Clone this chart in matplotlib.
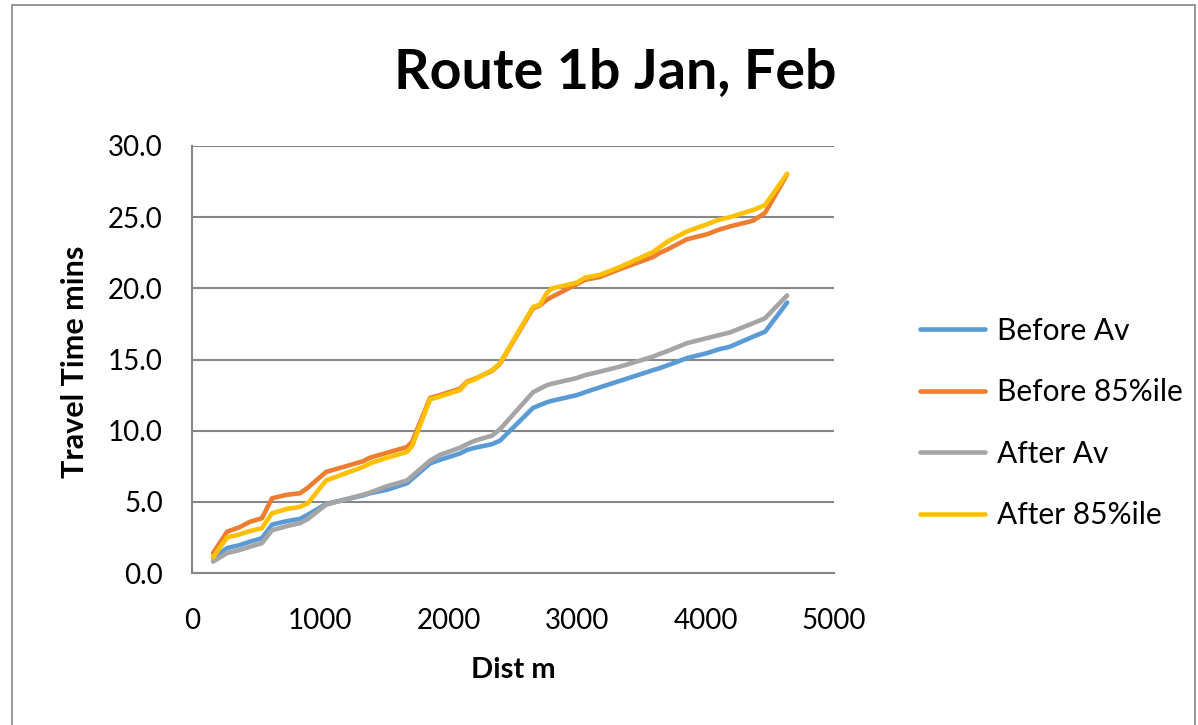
import matplotlib
matplotlib.use("Agg")
import matplotlib.pyplot as plt
from matplotlib.patches import Rectangle

dist = [164, 273, 366, 452, 545, 623, 740, 841, 903, 1044, 1332, 1386, 1519, 1674,
        1713, 1854, 1931, 2087, 2142, 2204, 2336, 2399, 2656, 2710, 2765, 2804, 2998,
        3061, 3178, 3333, 3590, 3645, 3707, 3855, 4011, 4097, 4190, 4369, 4463, 4635]

before_av = [1.05, 1.75, 1.95, 2.2, 2.45, 3.4, 3.65, 3.8, 4.1, 4.85, 5.45, 5.6, 5.85, 6.3,
             6.6, 7.7, 7.95, 8.4, 8.65, 8.8, 9.05, 9.3, 11.6, 11.8, 12.0, 12.1, 12.5,
             12.7, 13.05, 13.5, 14.25, 14.4, 14.6, 15.1, 15.45, 15.7, 15.9, 16.6, 16.95, 19.0]
before_85 = [1.4, 2.9, 3.2, 3.6, 3.85, 5.25, 5.5, 5.6, 6.0, 7.1, 7.85, 8.1, 8.45, 8.85,
             9.2, 12.3, 12.5, 12.95, 13.45, 13.65, 14.2, 14.7, 18.6, 18.8, 19.2, 19.4, 20.3,
             20.6, 20.8, 21.35, 22.2, 22.5, 22.75, 23.45, 23.8, 24.1, 24.35, 24.75, 25.3, 28.0]
after_av = [0.8, 1.4, 1.6, 1.85, 2.1, 3.0, 3.3, 3.5, 3.8, 4.8, 5.5, 5.65, 6.1, 6.5,
            6.8, 7.9, 8.3, 8.8, 9.05, 9.3, 9.65, 10.1, 12.7, 12.95, 13.2, 13.3, 13.7,
            13.9, 14.15, 14.5, 15.2, 15.4, 15.6, 16.15, 16.5, 16.7, 16.9, 17.55, 17.9, 19.5]
after_85 = [1.1, 2.5, 2.7, 2.95, 3.15, 4.2, 4.5, 4.65, 4.9, 6.5, 7.45, 7.7, 8.1, 8.5,
            8.9, 12.2, 12.4, 12.85, 13.4, 13.6, 14.25, 14.75, 18.7, 18.85, 19.7, 20.0, 20.4,
            20.75, 20.95, 21.5, 22.55, 22.9, 23.3, 24.0, 24.5, 24.8, 25.0, 25.5, 25.85, 28.05]

series_names = ["Before Av", "Before 85%ile", "After Av", "After 85%ile"]
series_vals = [before_av, before_85, after_av, after_85]
colors = ["#5B9BD5", "#ED7D31", "#A5A5A5", "#FFC000"]

x_ticks = [0, 1000, 2000, 3000, 4000, 5000]
y_ticks = [0, 5, 10, 15, 20, 25, 30]

plt.rcParams['font.family'] = ['Lato', 'DejaVu Sans']

W, H = 1198, 725
fig = plt.figure(figsize=(W / 100, H / 100), dpi=100)
fig.patches.append(Rectangle((12 / W, -0.01), (1195 - 12) / W, (H - 5) / H + 0.01,
                             transform=fig.transFigure, fill=False,
                             edgecolor="#868686", linewidth=1.2))

ax = fig.add_axes([192 / W, 1 - 573 / H, 642 / W, 427 / H])
for name, vals, c in zip(series_names, series_vals, colors):
    ax.plot(dist, vals, color=c, linewidth=3.3, label=name, solid_joinstyle='round',
            solid_capstyle='round')

ax.set_xlim(0, 5000)
ax.set_ylim(0, 30)
ax.set_xticks(x_ticks)
ax.set_yticks(y_ticks)
ax.set_yticklabels([f"{v:.1f}" for v in y_ticks])
ax.tick_params(axis='both', labelsize=20, colors='black', length=0)
ax.tick_params(axis='x', pad=25)
ax.tick_params(axis='y', pad=21)
ax.grid(axis='y', color='#868686', linewidth=1.5)
ax.set_axisbelow(True)
for s in ['top', 'right']:
    ax.spines[s].set_visible(False)
for s in ['left', 'bottom']:
    ax.spines[s].set_color('#868686')
    ax.spines[s].set_linewidth(1.5)

ax.set_xlabel("Dist m", fontsize=21, fontweight='bold', va='center')
ax.xaxis.set_label_coords((513 - 192) / 642, (573 - 670) / 427)
ax.set_ylabel("Travel Time mins", fontsize=22, fontweight='bold', va='center')
ax.yaxis.set_label_coords((75 - 192) / 642, (573 - 362) / 427)

fig.text(615 / W, 1 - 72 / H, "Route 1b Jan, Feb", fontsize=40, fontweight='bold',
         ha='center', va='center')

leg = fig.legend(loc='upper left', bbox_to_anchor=(908 / W, 1 - 305 / H), frameon=False,
                 fontsize=21.5, handlelength=2.17, labelspacing=1.12, handletextpad=0.4,
                 borderaxespad=0)

fig.savefig("out.png", dpi=100)
